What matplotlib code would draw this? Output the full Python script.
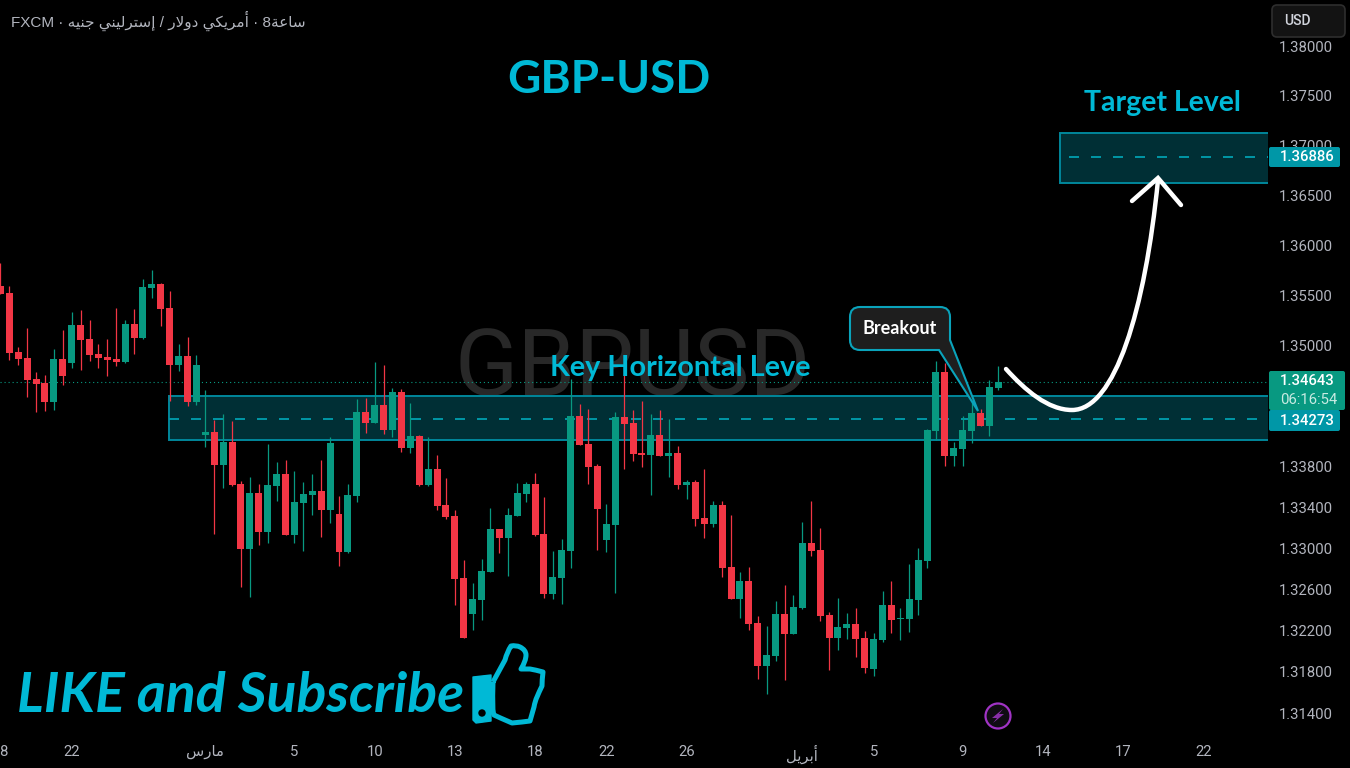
"""
plot.py
-------
GBP-USD 8h candlestick chart with breakout zone and target level.
Saves out.png
"""

import matplotlib
matplotlib.use("Agg")
import matplotlib.pyplot as plt
from matplotlib.patches import Rectangle, PathPatch, Circle, Polygon, FancyBboxPatch
from matplotlib.path import Path
from matplotlib.ticker import NullLocator, NullFormatter

plt.rcParams["lines.scale_dashes"] = False

# Candles, oldest first, in 1e-5 price units
OPENS = [
    135593, 135523, 134936, 134877, 134669, 134629, 134441, 134867, 134827, 135204,
    135065, 134916, 134887, 134867, 134837, 135214, 135075, 135573, 135613, 135373,
    134807, 134897, 134441, 134115, 134145, 133819, 134046, 133633, 132996, 133544,
    133162, 133613, 133731, 133133, 133446, 133524, 133564, 133377, 133338, 132966,
    133515, 134342, 134234, 134412, 134165, 134540, 133987, 134105, 133623, 133780,
    133426, 133318, 132713, 132362, 132498, 132771, 133191, 133103, 133318, 133534,
    133633, 133142, 132556, 132713, 132976, 134303, 134026, 133810, 133083, 133231,
    134293, 134234, 133937, 133918, 134115, 133908, 133937, 133623, 133652, 133299,
    133240, 133426, 132820, 132508, 132683, 132274, 131856, 131953, 132362, 132167,
    132420, 133054, 132986, 132352, 132128, 132225, 132264, 132128, 131827, 132108,
    132449, 132313, 132313, 132498, 132879, 134155, 134738, 133908, 133977, 134155,
    134333, 134204, 134580,
]
HIGHS = [
    135822, 135593, 134985, 135175, 134738, 134708, 134965, 135155, 135334, 135354,
    135254, 135015, 135065, 135373, 135254, 135364, 135663, 135752, 135623, 135543,
    135015, 135085, 134906, 134560, 134263, 134323, 134254, 133662, 133701, 133633,
    134026, 133849, 133869, 133760, 133652, 133731, 133869, 134096, 133515, 133633,
    134471, 134481, 134837, 134807, 134580, 134570, 134431, 134115, 134096, 133918,
    133692, 133377, 132888, 132664, 132898, 133397, 133191, 133397, 133642, 133652,
    133741, 133505, 132976, 133093, 134669, 134421, 134372, 133829, 133436, 134342,
    134798, 134362, 134451, 134323, 134362, 134273, 134006, 133672, 133672, 133780,
    133465, 133465, 133328, 132771, 132820, 132342, 132245, 132488, 132644, 132547,
    133260, 133465, 133201, 132381, 132517, 132371, 132420, 132196, 132176, 132586,
    132683, 132420, 132849, 133005, 134175, 134847, 134827, 134046, 134303, 134461,
    134372, 134659, 134798,
]
LOWS = [
    135513, 134857, 134807, 134491, 134342, 134352, 134362, 134609, 134778, 134758,
    134847, 134778, 134699, 134798, 134827, 134916, 135065, 135473, 135195, 134451,
    134748, 134402, 134412, 133997, 133142, 133593, 133613, 132625, 132527, 133035,
    133054, 133465, 133133, 133054, 132976, 133328, 133113, 133250, 132830, 132957,
    133455, 134135, 134234, 134125, 134096, 133947, 133937, 133613, 133613, 133377,
    133289, 132449, 132128, 132206, 132303, 132771, 132957, 132732, 133318, 133455,
    133123, 132517, 132508, 132459, 132810, 134016, 133633, 132986, 132966, 132566,
    133780, 133859, 133800, 133524, 133908, 133701, 133584, 133485, 133221, 133103,
    133211, 132722, 132508, 132323, 132206, 131730, 131585, 131904, 131720, 132167,
    132410, 132927, 132293, 131817, 132011, 132118, 131943, 131788, 131759, 132089,
    132176, 132108, 132186, 132352, 132810, 134066, 133810, 133810, 133810, 134036,
    134204, 134105, 134560,
]
CLOSES = [
    135513, 134926, 134867, 134659, 134619, 134441, 134867, 134699, 135204, 135055,
    134906, 134877, 134857, 134837, 135214, 135075, 135583, 135613, 135364, 134807,
    134897, 134441, 134807, 134145, 133819, 134046, 133623, 132996, 133544, 133162,
    133623, 133731, 133133, 133455, 133534, 133564, 133377, 134036, 132966, 133524,
    134342, 134234, 134412, 134165, 134540, 133987, 134105, 133623, 133780, 133416,
    133309, 132703, 132128, 132508, 132781, 133191, 133103, 133328, 133544, 133633,
    133133, 132556, 132722, 132986, 134303, 134016, 133800, 133387, 133240, 134293,
    134224, 133928, 133918, 134115, 133908, 133937, 133623, 133652, 133289, 133240,
    133426, 132810, 132508, 132683, 132264, 131856, 131963, 132362, 132167, 132430,
    133054, 132976, 132342, 132128, 132235, 132264, 132118, 131837, 132118, 132449,
    132303, 132323, 132508, 132888, 134165, 134738, 133908, 133987, 134165, 134333,
    134204, 134590, 134643,
]

# Axis labels (Arabic written as shaped glyphs in drawing order)
MARCH = "\ufeb1\ufead\ufe8e\ufee3"
APRIL = "\ufede\ufef3\ufeae\ufe91\ufe83"
DATE_POS = [0.3, 8, 23, 33, 42, 51, 60, 68, 77, 90, 98, 108, 117, 126, 135]
DATE_LABELS = ["8", "22", MARCH, "5", "10", "13", "18", "22", "26", APRIL,
               "5", "9", "14", "17", "22"]
PRICE_TICKS = [1.38, 1.375, 1.37, 1.365, 1.36, 1.355, 1.35,
               1.338, 1.334, 1.33, 1.326, 1.322, 1.318, 1.314]

HEADER = ("FXCM \u00b7 \ufeea\ufef4\ufee8\ufe9f \ufef2\ufee8\ufef4\ufedf\ufeae\ufe98\ufeb3\ufe87"
          " / \ufead\ufefb\ufeed\ufea9 \ufef2\ufedc\ufef3\ufeae\ufee3\ufe83 \u00b7 8\ufe94\ufecb\ufe8e\ufeb3")

LAST_PRICE = 1.34643
WATERMARK_PRICE = 1.34760
KEY_LEVEL = (1.34066, 1.34273, 1.34500)
TARGET_LEVEL = (1.36623, 1.36886, 1.37126)
KEY_START = 18.87
TARGET_START = 118.87
DASH_TARGET_START = 119.9

W, H = 1350, 768
RED = "#f23645"
GREEN = "#089981"
CYAN = "#00b9d6"
TEAL = "#0097a7"
ZONE_EDGE = "#00879b"
ZONE_FILL = (0.0, 0.74, 0.83, 0.25)
GREY = "#b2b5be"

fig = plt.figure(figsize=(W / 100, H / 100), dpi=100, facecolor="black")
ax = fig.add_axes([0, (H - 736) / H, 1268 / W, 736 / H], facecolor="black")
ax.set_yscale("log")
ax.set_ylim(1.31179, 1.38474)
ax.set_xlim(-0.045, 142.26)
for s in ax.spines.values():
    s.set_visible(False)

ax.yaxis.tick_right()
ax.yaxis.set_minor_locator(NullLocator())
ax.yaxis.set_minor_formatter(NullFormatter())
ax.set_yticks(PRICE_TICKS)
ax.set_yticklabels([f"{p:.5f}" for p in PRICE_TICKS], fontsize=10.7, color=GREY,
                   family=["Roboto", "DejaVu Sans"])
ax.tick_params(axis="y", length=0, pad=8)
ax.set_xticks(DATE_POS)
ax.set_xticklabels(DATE_LABELS, fontsize=10.7, color=GREY, family=["Roboto", "DejaVu Sans"])
ax.tick_params(axis="x", length=0, pad=6.5)

# Zones
ax.text(71, WATERMARK_PRICE, "GBPUSD", fontsize=67, color="#282828", ha="center", va="center",
        family="Roboto", zorder=0)
for start, dash_start, (lo, mid, hi) in [(KEY_START, KEY_START, KEY_LEVEL),
                                         (TARGET_START, DASH_TARGET_START, TARGET_LEVEL)]:
    ax.add_patch(Rectangle((start, lo), 142.26 - start + 2, hi - lo, facecolor=ZONE_FILL,
                           edgecolor=ZONE_EDGE, lw=1.4, zorder=1))
    ax.plot([dash_start, 142.26], [mid, mid], color=TEAL, lw=1.4,
            linestyle=(0, (7.2, 8.64)), zorder=2)

ax.axhline(LAST_PRICE, color=GREEN, lw=0.8, linestyle=(0, (0.8, 2.1)), zorder=2)

# Candles
x = list(range(len(OPENS)))
o = [v / 1e5 for v in OPENS]
h = [v / 1e5 for v in HIGHS]
l = [v / 1e5 for v in LOWS]
c = [v / 1e5 for v in CLOSES]
colors = [GREEN if ci >= oi else RED for oi, ci in zip(o, c)]
ax.vlines(x, l, h, colors=colors, lw=0.9, zorder=3)
ax.bar(x, [abs(ci - oi) for oi, ci in zip(o, c)], bottom=[min(oi, ci) for oi, ci in zip(o, c)],
       width=0.785, color=colors, linewidth=0, zorder=4)

# Overlay in pixel coordinates for the drawn annotations
ov = fig.add_axes([0, 0, 1, 1], facecolor="none")
ov.set_xlim(0, W)
ov.set_ylim(H, 0)
ov.axis("off")

TITLE_FONT = ["Lato", "DejaVu Sans"]
ov.text(609, 80, "GBP-USD", fontsize=33, color=CYAN, weight="bold", ha="center", va="center",
        family=TITLE_FONT)
ov.text(1162, 103, "Target Level", fontsize=20.5, color=CYAN, weight="bold", ha="center",
        va="center", family=TITLE_FONT)
ov.text(680, 368, "Key Horizontal Leve", fontsize=20.7, color=CYAN, weight="bold", ha="center",
        va="center", family=TITLE_FONT)
ov.text(241, 696, "LIKE and Subscribe", fontsize=40, color=CYAN, weight="bold", style="italic",
        ha="center", va="center", family=TITLE_FONT)
ov.text(11, 21, HEADER, fontsize=11, color=GREY, ha="left", va="center",
        family=["Liberation Sans", "DejaVu Sans"])

# Curved arrow to target
arrow = Path([(1006, 369), (1025, 390), (1048, 410), (1072, 410),
              (1115, 410), (1145, 310), (1158, 180)],
             [Path.MOVETO, Path.CURVE4, Path.CURVE4, Path.CURVE4,
              Path.CURVE4, Path.CURVE4, Path.CURVE4])
ov.add_patch(PathPatch(arrow, facecolor="none", edgecolor="white", lw=3.2, capstyle="round"))
ov.plot([1132, 1158, 1181], [201, 178, 205], color="white", lw=3.2,
        solid_capstyle="round", solid_joinstyle="miter")

# Breakout callout
bubble = Path([(860, 307), (940, 307), (950, 307), (950, 317), (950, 340), (978, 411),
               (939, 350), (860, 350), (850, 350), (850, 340), (850, 317), (850, 307),
               (860, 307), (860, 307)],
              [Path.MOVETO, Path.LINETO, Path.CURVE3, Path.CURVE3, Path.LINETO, Path.LINETO,
               Path.LINETO, Path.LINETO, Path.CURVE3, Path.CURVE3, Path.LINETO, Path.CURVE3,
               Path.CURVE3, Path.CLOSEPOLY])
ov.add_patch(PathPatch(bubble, facecolor="#1e1e1e", edgecolor="#0aa3bb", lw=1.5, zorder=5))
ov.text(900, 329, "Breakout", fontsize=13, color="white", weight="bold", ha="center",
        va="center", family=TITLE_FONT, zorder=6)

# Thumb icon
ov.add_patch(Polygon([(473, 677), (491, 675), (491, 721), (476, 723), (473, 720)],
                     closed=True, facecolor=CYAN, edgecolor=CYAN, lw=1, joinstyle="round"))
ov.add_patch(Circle((482, 713), 3, color="black"))
thumb = Path([(493, 682), (505, 660), (507, 652), (511, 646), (516, 645), (520, 647), (526, 650),
              (526, 655), (526, 661), (521, 669), (530, 669), (536, 670), (543, 672), (542, 680),
              (542, 686), (539, 692), (537, 697), (535, 701), (534, 707), (532, 714), (530, 721),
              (523, 722), (512, 723), (498, 717), (494, 715), (492, 713), (493, 682)],
             [Path.MOVETO, Path.LINETO, Path.CURVE3, Path.CURVE3, Path.CURVE3, Path.CURVE3,
              Path.CURVE3, Path.CURVE3, Path.CURVE3, Path.CURVE3, Path.LINETO, Path.CURVE3,
              Path.CURVE3, Path.CURVE3, Path.CURVE3, Path.CURVE3, Path.CURVE3, Path.CURVE3,
              Path.CURVE3, Path.CURVE3, Path.CURVE3, Path.CURVE3, Path.CURVE3, Path.CURVE3,
              Path.CURVE3, Path.CURVE3, Path.CLOSEPOLY])
ov.add_patch(PathPatch(thumb, facecolor="none", edgecolor=CYAN, lw=3.6, joinstyle="round"))

# Lightning badge
ov.add_patch(Circle((998, 716), 12.5, facecolor="#100c12", edgecolor="#a033c4", lw=1.6))
ov.add_patch(Polygon([(1003, 709), (992, 718), (997, 718), (993, 723), (1004, 714), (999, 714)],
                     closed=True, facecolor="#8a2fa8", edgecolor="none"))

# Price scale labels
def price_box(y0, y1, x1, color):
    ov.add_patch(FancyBboxPatch((1269, y0), x1 - 1269, y1 - y0, boxstyle="round,pad=0,rounding_size=2",
                                facecolor=color, edgecolor="none", zorder=6))

scale_font = ["Roboto", "DejaVu Sans"]
price_box(147, 167, 1340, TEAL)
ov.text(1280, 157, f"{TARGET_LEVEL[1]:.5f}", fontsize=10.7, color="white", va="center",
        weight="medium", family=scale_font, zorder=7)
price_box(371, 410, 1345, GREEN)
ov.text(1280, 381, f"{LAST_PRICE:.5f}", fontsize=10.7, color="white", va="center",
        weight="medium", family=scale_font, zorder=7)
ov.text(1280, 400, "06:16:54", fontsize=10.7, color="#c8ebe2", va="center", family=scale_font, zorder=7)
price_box(410, 431, 1340, TEAL)
ov.text(1280, 421, f"{KEY_LEVEL[1]:.5f}", fontsize=10.7, color="white", va="center",
        weight="medium", family=scale_font, zorder=7)

# Currency button
ov.add_patch(FancyBboxPatch((1272, 5), 73, 32, boxstyle="round,pad=0,rounding_size=5",
                            facecolor="#131313", edgecolor="#2e2e2e", lw=1.2, zorder=6))
ov.text(1284, 21, "USD", fontsize=10, color="#d1d4dc", va="center", weight="medium",
        family=scale_font, zorder=7)

fig.savefig("out.png", dpi=100, facecolor="black")
